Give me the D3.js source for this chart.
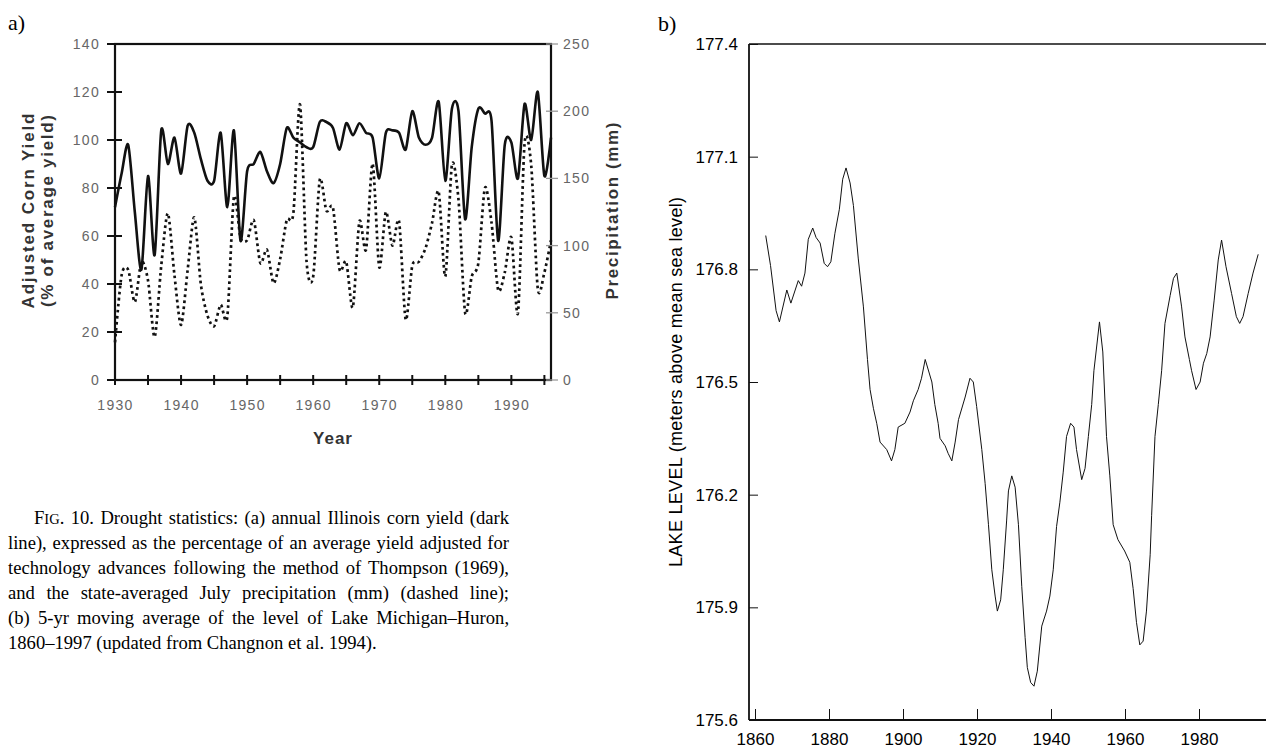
<!DOCTYPE html>
<html><head><meta charset="utf-8">
<script src="https://cdn.jsdelivr.net/npm/d3@7"></script>
<style>body{margin:0;background:#fff} svg{display:block}</style>
</head><body><svg id="c" width="1266" height="750"></svg>
<script>
// ---------- Panel a data ----------
const cornYears = [1930,1931,1932,1933,1934,1935,1936,1937,1938,1939,1940,1941,1942,1943,1944,1945,1946,1947,1948,1949,
  1950,1951,1952,1953,1954,1955,1956,1957,1958,1959,1960,1961,1962,1963,1964,1965,1966,1967,1968,1969,
  1970,1971,1972,1973,1974,1975,1976,1977,1978,1979,1980,1981,1982,1983,1984,1985,1986,1987,1988,1989,
  1990,1991,1992,1993,1994,1995,1996];
const cornYield = [72,86,98,70,46,85,52,104,90,101,86,106,103,92,83,83,103,72,104,58,
  87,90,95,87,82,90,105,101,99,97,97,107.5,107.5,105,96,107,102,107,103,101,
  84,103,104,103,96,112,101,98,101,116,83,113,112,67,97,113,111,108,58,98,
  99,84,115,100,120,85,101];
const precipMM = [28,78,82,58,88,74,32,85,124,78,41,82,121,71,48,40,56,47,136,106,
  104,119,87,97,72,90,119,124,205,88,77,149,126,128,82,88,54,118,97,161,
  84,125,100,118,45,85,88,98,117,140,77,160,134,50,77,87,143,117,67,80,
  106,50,176,160,68,80,104];
const yieldTicks = [0,20,40,60,80,100,120,140];
const precipTicks = [0,50,100,150,200,250];
const yearTicksA = [1930,1935,1940,1945,1950,1955,1960,1965,1970,1975,1980,1985,1990,1995];
const yearLabelsA = [1930,1940,1950,1960,1970,1980,1990];

// ---------- Panel b data ----------
const lakeYears = [1862.9,1864.2,1865.7,1866.6,1868.6,1869.7,1871.7,1872.6,1873.5,1874.4,1875.6,1876.5,1877.6,1878.7,1879.6,
  1880.5,1881.6,1882.8,1883.7,1884.6,1885.7,1886.6,1887.9,1889.3,1890.4,1891.1,1892.0,1892.9,1893.8,1895.6,1896.9,1897.8,1898.7,
  1900.5,1901.9,1902.8,1904.1,1905.0,1906.0,1907.8,1908.6,1909.5,1910.0,1911.4,1912.2,1913.2,1914.1,1915.0,1916.8,1918.1,1919.0,
  1919.9,1921.3,1922.2,1923.1,1924.0,1924.9,1925.5,1926.4,1927.1,1928.0,1928.5,1929.4,1930.3,1931.2,1932.1,1933.0,1933.6,1934.5,
  1935.4,1936.3,1937.5,1938.8,1939.7,1940.6,1941.5,1942.4,1943.3,1944.2,1945.3,1946.2,1946.9,1948.3,1949.2,1950.1,1951.0,1951.6,
  1953.1,1954.0,1955.0,1955.9,1956.8,1958.1,1959.9,1961.3,1962.2,1963.1,1964.0,1964.9,1965.8,1966.8,1967.2,1968.1,1969.0,1969.9,
  1970.8,1972.2,1973.1,1974.0,1975.3,1976.2,1977.4,1978.0,1979.2,1980.3,1981.2,1982.1,1983.0,1984.1,1985.2,1986.1,1987.3,1988.8,
  1990.1,1991.0,1991.9,1993.3,1994.6,1996.0];
const lakeLevel = [176.89,176.81,176.69,176.66,176.745,176.71,176.77,176.755,176.79,176.88,176.91,176.885,176.87,176.816,176.807,
  176.82,176.896,176.96,177.04,177.07,177.03,176.97,176.83,176.70,176.56,176.48,176.43,176.39,176.34,176.32,176.29,176.32,176.38,
  176.39,176.42,176.45,176.48,176.51,176.56,176.50,176.44,176.39,176.35,176.33,176.31,176.29,176.34,176.40,176.46,176.51,176.50,
  176.435,176.32,176.23,176.12,176.00,175.93,175.89,175.92,176.00,176.13,176.21,176.25,176.22,176.12,175.955,175.82,175.74,175.70,
  175.69,175.73,175.85,175.89,175.93,176.00,176.115,176.18,176.26,176.355,176.39,176.38,176.32,176.24,176.27,176.355,176.44,176.53,
  176.66,176.58,176.355,176.25,176.12,176.08,176.05,176.02,175.95,175.86,175.80,175.81,175.89,176.04,176.145,176.355,176.44,176.53,
  176.656,176.73,176.776,176.79,176.70,176.62,176.56,176.53,176.48,176.50,176.55,176.576,176.62,176.718,176.825,176.878,176.807,176.736,
  176.674,176.656,176.674,176.736,176.79,176.84];
const lakeLevelTicks = [175.6,175.9,176.2,176.5,176.8,177.1,177.4];
const lakeYearTicks = [1860,1880,1900,1920,1940,1960,1980];

const captionLines = [
  "line), expressed as the percentage of an average yield adjusted for",
  "technology advances following the method of Thompson (1969),",
  "and the state-averaged July precipitation (mm) (dashed line);",
  "(b) 5-yr moving average of the level of Lake Michigan\u2013Huron,",
  "1860\u20131997 (updated from Changnon et al. 1994)."
];

const svg = d3.select("#c");
const SANS = "'Liberation Sans', Arial, Helvetica, sans-serif";
const SERIF = "'Liberation Serif', 'Times New Roman', Times, serif";

// ================= PANEL A =================
const xA = d3.scaleLinear().domain([1930,1996]).range([115,551]);
const yL = d3.scaleLinear().domain([0,140]).range([380,44]);
const yR = d3.scaleLinear().domain([0,250]).range([380,44]);

const gA = svg.append("g");

gA.append("path")
  .datum(cornYears.map((y,i)=>[y,precipMM[i]]))
  .attr("fill","none").attr("stroke","#111").attr("stroke-width",2.7)
  .attr("stroke-dasharray","2.7,3.3")
  .attr("d", d3.line().x(d=>xA(d[0])).y(d=>yR(d[1])).curve(d3.curveCardinal.tension(0.2)));

gA.append("path")
  .datum(cornYears.map((y,i)=>[y,cornYield[i]]))
  .attr("fill","none").attr("stroke","#111").attr("stroke-width",2.6)
  .attr("stroke-linejoin","round")
  .attr("d", d3.line().x(d=>xA(d[0])).y(d=>yL(d[1])).curve(d3.curveCardinal.tension(0.2)));

gA.append("rect").attr("x",xA(1930)).attr("y",yL(140))
  .attr("width",xA(1996)-xA(1930)).attr("height",yL(0)-yL(140))
  .attr("fill","none").attr("stroke","#111").attr("stroke-width",2.2);

const axL = gA.append("g").attr("transform",`translate(${xA(1930)},0)`)
  .call(d3.axisLeft(yL).tickValues(yieldTicks).tickSize(0).tickPadding(15));
axL.select(".domain").remove();
axL.selectAll("text").attr("font-family",SANS).attr("font-size",14).attr("fill","#666").attr("letter-spacing","1.3px");
gA.append("g").selectAll("line").data(yieldTicks).join("line")
  .attr("x1",xA(1930)-8).attr("x2",xA(1930)+7)
  .attr("y1",d=>yL(d)).attr("y2",d=>yL(d))
  .attr("stroke","#111").attr("stroke-width",2);

const axR = gA.append("g").attr("transform",`translate(${xA(1996)},0)`)
  .call(d3.axisRight(yR).tickValues(precipTicks).tickSize(0).tickPadding(12));
axR.select(".domain").remove();
axR.selectAll("text").attr("font-family",SANS).attr("font-size",14).attr("fill","#666").attr("letter-spacing","1.3px");
gA.append("g").selectAll("line").data(precipTicks).join("line")
  .attr("x1",xA(1996)-5).attr("x2",xA(1996)+7)
  .attr("y1",d=>yR(d)).attr("y2",d=>yR(d))
  .attr("stroke","#999").attr("stroke-width",1.3);

const axB = gA.append("g").attr("transform",`translate(0,${yL(0)})`)
  .call(d3.axisBottom(xA).tickValues(yearLabelsA).tickFormat(d3.format("d")).tickSize(0).tickPadding(20));
axB.select(".domain").remove();
axB.selectAll("text").attr("font-family",SANS).attr("font-size",14).attr("fill","#666").attr("letter-spacing","1.3px");
gA.append("g").selectAll("line").data(yearTicksA).join("line")
  .attr("x1",d=>xA(d)).attr("x2",d=>xA(d))
  .attr("y1",yL(0)-5).attr("y2",yL(0)+5)
  .attr("stroke","#111").attr("stroke-width",2);

gA.append("text").attr("transform","translate(34,211) rotate(-90)")
  .attr("text-anchor","middle").attr("font-family",SANS).attr("font-weight","bold")
  .attr("font-size",17).attr("fill","#333").attr("textLength",195).attr("lengthAdjust","spacing")
  .text("Adjusted Corn Yield");
gA.append("text").attr("transform","translate(53,211) rotate(-90)")
  .attr("text-anchor","middle").attr("font-family",SANS).attr("font-weight","bold")
  .attr("font-size",17).attr("fill","#333").attr("textLength",192).attr("lengthAdjust","spacing")
  .text("(% of average yield)");
gA.append("text").attr("transform","translate(618,211) rotate(-90)")
  .attr("text-anchor","middle").attr("font-family",SANS).attr("font-weight","bold")
  .attr("font-size",17).attr("fill","#333").attr("textLength",177).attr("lengthAdjust","spacing")
  .text("Precipitation (mm)");
gA.append("text").attr("x",333).attr("y",444)
  .attr("text-anchor","middle").attr("font-family",SANS).attr("font-weight","bold")
  .attr("font-size",17).attr("fill","#333").attr("letter-spacing","1px")
  .text("Year");

svg.append("text").attr("x",8).attr("y",30).attr("font-family",SERIF).attr("font-size",22).attr("fill","#000").text("a)");
svg.append("text").attr("x",658).attr("y",31).attr("font-family",SERIF).attr("font-size",22).attr("fill","#000").text("b)");

// caption: justified by word spacing
const cap = svg.append("g").attr("font-family",SERIF).attr("font-size",18.6).attr("fill","#000");
function justify(sel, target){
  const node = sel.node();
  const w = node.getComputedTextLength();
  const n = (node.textContent.match(/ /g)||[]).length;
  if(n>0) sel.attr("word-spacing", ((target - w)/n).toFixed(2));
}
const l1 = cap.append("text").attr("x",34).attr("y",524);
l1.append("tspan").text("F");
l1.append("tspan").attr("font-size",14.5).text("IG");
l1.append("tspan").text(". 10. Drought statistics: (a) annual Illinois corn yield (dark");
justify(l1, 475);
captionLines.forEach((t,i)=>{
  const tx = cap.append("text").attr("x",8).attr("y",549+25*i).text(t);
  if(i<4) justify(tx, 501);
});

// ================= PANEL B =================
const xB = d3.scaleLinear().domain([1860,1980]).range([755,1199]);
const yB = d3.scaleLinear().domain([175.6,177.4]).range([720,44]);
const gB = svg.append("g");
const xLeft = 749, xRight = 1266;

gB.append("path")
  .datum(lakeYears.map((y,i)=>[y,lakeLevel[i]]))
  .attr("fill","none").attr("stroke","#111").attr("stroke-width",1)
  .attr("d", d3.line().x(d=>xB(d[0])).y(d=>yB(d[1])));

gB.append("line").attr("x1",xLeft).attr("x2",xRight).attr("y1",yB(177.4)).attr("y2",yB(177.4)).attr("stroke","#111").attr("stroke-width",1.5);
gB.append("line").attr("x1",xLeft).attr("x2",xRight).attr("y1",yB(175.6)).attr("y2",yB(175.6)).attr("stroke","#111").attr("stroke-width",2);
gB.append("line").attr("x1",xLeft).attr("x2",xLeft).attr("y1",yB(177.4)).attr("y2",yB(175.6)).attr("stroke","#111").attr("stroke-width",1.8);

const axBL = gB.append("g").attr("transform",`translate(${xLeft},0)`)
  .call(d3.axisLeft(yB).tickValues(lakeLevelTicks).tickFormat(d3.format(".1f")).tickSizeInner(-9).tickSizeOuter(0).tickPadding(11));
axBL.select(".domain").remove();
axBL.selectAll("line").attr("stroke","#111").attr("stroke-width",1);
axBL.selectAll("text").attr("font-family",SANS).attr("font-size",17).attr("fill","#000");

const axBB = gB.append("g").attr("transform",`translate(0,${yB(175.6)})`)
  .call(d3.axisBottom(xB).tickValues(lakeYearTicks).tickFormat(d3.format("d")).tickSizeInner(-11).tickSizeOuter(0).tickPadding(13));
axBB.select(".domain").remove();
axBB.selectAll("line").attr("stroke","#111").attr("stroke-width",1);
axBB.selectAll("text").attr("font-family",SANS).attr("font-size",17).attr("fill","#000");

gB.append("text").attr("transform","translate(682,382) rotate(-90)")
  .attr("text-anchor","middle").attr("font-family",SANS).attr("font-size",18).attr("fill","#000")
  .attr("textLength",370).attr("lengthAdjust","spacing")
  .text("LAKE LEVEL (meters above mean sea level)");
</script></body></html>
